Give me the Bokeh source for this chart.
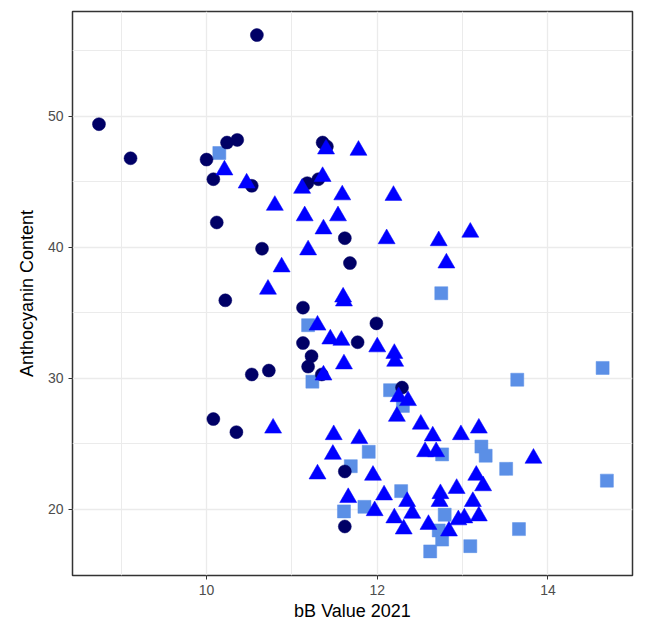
from bokeh.plotting import figure
from bokeh.models import FixedTicker, Range1d
from bokeh.embed import file_html
from bokeh.resources import INLINE

# Group 1: navy circles
circ_x = [10.59, 8.74, 9.11, 10.0, 10.24, 10.36, 10.08, 10.53, 10.12, 10.65, 11.36, 11.41, 11.18, 11.31,
          11.62, 11.68, 10.22, 11.13, 11.13, 11.77, 11.23, 11.19, 10.53, 10.73, 11.35, 10.08, 10.35,
          11.62, 11.62, 11.99, 12.29]
circ_y = [56.2, 49.4, 46.8, 46.7, 48.0, 48.2, 45.2, 44.7, 41.9, 39.9, 48.0, 47.7, 44.9, 45.2,
          40.7, 38.8, 35.96, 35.4, 32.7, 32.76, 31.7, 30.9, 30.3, 30.6, 30.3, 26.9, 25.9,
          22.9, 18.7, 34.2, 29.3]

# Group 2: blue triangles
tri_x = [10.21, 10.47, 10.8, 10.88, 10.72, 11.4, 11.78, 11.12, 11.36, 11.59, 11.15, 11.54, 11.37, 11.19,
         11.6, 11.61, 12.19, 12.11, 12.72, 13.09, 12.81, 11.30, 11.45, 11.58, 11.61, 11.37, 10.78, 11.49,
         11.79, 11.48, 11.30, 11.66, 12.0, 12.2, 12.21, 12.25, 12.36, 12.23, 12.51, 12.65, 12.98, 13.19,
         12.56, 12.69, 13.83, 11.95, 13.16, 13.24, 12.08, 12.35, 12.74, 12.73, 12.93, 13.12, 11.97, 12.2,
         12.41, 12.31, 12.6, 12.95, 13.02, 13.19, 12.84]
tri_y = [45.9, 44.9, 43.2, 38.5, 36.8, 47.5, 47.4, 44.5, 45.4, 44.0, 42.4, 42.4, 41.4, 39.8,
         36.2, 35.9, 43.96, 40.65, 40.5, 41.15, 38.8, 34.06, 33.0, 32.9, 31.1, 30.25, 26.2, 25.7,
         25.4, 24.2, 22.7, 20.9, 32.4, 31.9, 31.3, 28.6, 28.3, 27.1, 26.5, 25.6, 25.7, 26.2,
         24.4, 24.4, 23.9, 22.6, 22.6, 21.8, 21.1, 20.6, 21.2, 20.6, 21.6, 20.6, 19.9, 19.35,
         19.7, 18.5, 18.85, 19.2, 19.35, 19.5, 18.35]

# Group 3: light blue squares
sq_x = [10.15, 11.19, 11.24, 11.69, 11.61, 12.75, 13.64, 14.64, 12.15, 12.3, 11.9, 13.22, 13.27, 12.76,
        13.51, 14.69, 12.28, 11.85, 12.79, 12.72, 12.76, 12.62, 13.09, 13.66]
sq_y = [47.2, 34.06, 29.75, 23.3, 19.85, 36.5, 29.9, 30.8, 29.1, 27.9, 24.4, 24.8, 24.1, 24.2,
        23.1, 22.2, 21.4, 20.2, 19.6, 18.4, 17.7, 16.8, 17.2, 18.5]

x_ticks = [10, 12, 14]
x_minor = [9, 11, 13]
y_ticks = [20, 30, 40, 50]
y_minor = [25, 35, 45, 55]

p = figure(width=636, height=625, output_backend="svg", toolbar_location=None,
           x_range=Range1d(8.43, 14.99), y_range=Range1d(14.96, 58.0),
           min_border_left=72, min_border_right=4, min_border_top=11, min_border_bottom=50,
           x_axis_label="bB Value 2021", y_axis_label="Anthocyanin Content")

p.background_fill_color = "white"
p.border_fill_color = "white"
p.outline_line_color = "#333333"
p.outline_line_width = 1.5

p.xaxis.ticker = FixedTicker(ticks=x_ticks, minor_ticks=x_minor)
p.yaxis.ticker = FixedTicker(ticks=y_ticks, minor_ticks=y_minor)

for ax in (p.xaxis, p.yaxis):
    ax.axis_line_color = None
    ax.major_tick_line_color = "#333333"
    ax.major_tick_line_width = 1
    ax.major_tick_out = 4
    ax.major_tick_in = 0
    ax.minor_tick_line_color = None
    ax.major_label_text_font = "Liberation Sans"
    ax.major_label_text_font_size = "14px"
    ax.major_label_text_color = "#4d4d4d"
    ax.axis_label_text_font = "Liberation Sans"
    ax.axis_label_text_font_size = "18px"
    ax.axis_label_text_font_style = "normal"
    ax.axis_label_text_color = "black"
p.xaxis.axis_label_standoff = 3
p.xaxis.major_label_standoff = 5
p.yaxis.axis_label_standoff = 8
p.yaxis.major_label_orientation = "horizontal"

for g in (p.xgrid, p.ygrid):
    g.grid_line_color = "#ebebeb"
    g.grid_line_width = 1.3
    g.minor_grid_line_color = "#ebebeb"
    g.minor_grid_line_width = 1.0

p.scatter(sq_x, sq_y, marker="square", size=13, fill_color="#5b8fe6", line_color="#5b8fe6", line_width=0.5)
p.scatter(circ_x, circ_y, marker="circle", size=13, fill_color="#000066", line_color="#000066", line_width=0.5)
p.scatter(tri_x, tri_y, marker="triangle", size=17, fill_color="#0000ff", line_color="#0000ff", line_width=0.5)

open("out.html", "w").write(file_html(p, INLINE))
